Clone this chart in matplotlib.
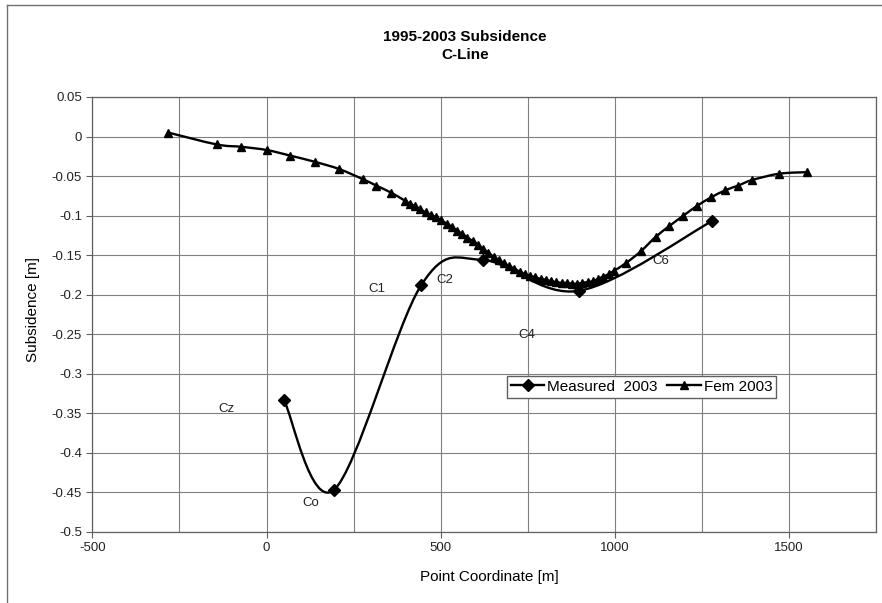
import numpy as np
import matplotlib.pyplot as plt
from matplotlib.path import Path
from matplotlib.patches import PathPatch
from matplotlib.lines import Line2D
from matplotlib.ticker import MultipleLocator, FuncFormatter

plt.rcParams['font.family'] = ['Liberation Sans', 'DejaVu Sans']
plt.rcParams['axes.unicode_minus'] = False

# measured 2003 (diamonds)
meas_x = [50, 193, 444, 621, 898, 1279]
meas_y = [-0.333, -0.447, -0.188, -0.156, -0.195, -0.107]

# FEM 2003 (triangles)
fem_x = [-282, -143, -72, 0, 67, 139, 208, 277, 315, 358,
         397, 412, 427, 442, 457, 472, 487, 502, 517, 532,
         547, 562, 577, 592, 607, 622, 637, 652, 667, 682,
         697, 712, 727, 742, 757, 772, 787, 802, 817, 832,
         847, 862, 877, 892, 907, 922, 937, 952, 967, 982, 997,
         1032, 1075, 1117, 1157, 1197, 1235, 1276, 1317, 1354, 1394, 1472, 1553]
fem_y = [0.005, -0.010, -0.013, -0.017, -0.024, -0.032, -0.041, -0.054, -0.062, -0.071,
         -0.081, -0.085, -0.088, -0.092, -0.096, -0.099, -0.102, -0.106, -0.110, -0.114,
         -0.119, -0.123, -0.128, -0.132, -0.137, -0.142, -0.147, -0.152, -0.156, -0.160,
         -0.164, -0.167, -0.171, -0.174, -0.176, -0.178, -0.180, -0.181, -0.183, -0.184,
         -0.185, -0.185, -0.186, -0.186, -0.185, -0.184, -0.183, -0.180, -0.177, -0.174, -0.170,
         -0.160, -0.145, -0.127, -0.113, -0.100, -0.088, -0.077, -0.068, -0.062, -0.055, -0.047, -0.045]

# point names written on the chart
pt_names = ["Cz", "Co", "C1", "C2", "C4", "C6"]
pt_x = [-115, 127, 316, 512, 748, 1133]
pt_y = [-0.344, -0.463, -0.193, -0.182, -0.251, -0.157]


def smooth_path(x, y):
    # excel-like smoothed line: cubic bezier through every point
    p = np.column_stack([x, y]).astype(float)
    n = len(p)
    verts = [p[0]]
    codes = [Path.MOVETO]
    for i in range(n - 1):
        p0 = p[i - 1] if i > 0 else p[i]
        p3 = p[i + 2] if i + 2 < n else p[i + 1]
        c1 = p[i] + (p[i + 1] - p0) / 6
        c2 = p[i + 1] - (p3 - p[i]) / 6
        verts += [c1, c2, p[i + 1]]
        codes += [Path.CURVE4] * 3
    return Path(verts, codes)


fig = plt.figure(figsize=(8.82, 6.03), dpi=100)
ax = fig.add_axes([92.4 / 882, 1 - 532 / 603, 783.6 / 882, 435 / 603])

ax.add_patch(PathPatch(smooth_path(meas_x, meas_y), fill=False, lw=1.7, edgecolor='black', zorder=3))
ax.add_patch(PathPatch(smooth_path(fem_x, fem_y), fill=False, lw=1.7, edgecolor='black', zorder=3))
ax.plot(meas_x, meas_y, 'D', ms=6.5, color='black', zorder=4)
ax.plot(fem_x, fem_y, '^', ms=6, color='black', zorder=4)

for name, x, y in zip(pt_names, pt_x, pt_y):
    ax.text(x, y, name, fontsize=9.5, ha='center', va='center', color='#222222')

ax.set_xlim(-500, 1750)
ax.set_ylim(-0.5, 0.05)
ax.xaxis.set_major_locator(MultipleLocator(500))
ax.xaxis.set_minor_locator(MultipleLocator(250))
ax.yaxis.set_major_locator(MultipleLocator(0.05))
ax.xaxis.set_major_formatter(FuncFormatter(lambda v, p: "%d" % round(v)))
ax.yaxis.set_major_formatter(FuncFormatter(lambda v, p: "%g" % round(v, 2)))
ax.grid(True, which='both', color='#808080', lw=0.8)
ax.set_axisbelow(True)
ax.tick_params(which='major', direction='out', length=4, width=0.8, labelsize=9.5,
               colors='#606060', labelcolor='#222222')
ax.tick_params(which='minor', length=0)
for s in ax.spines.values():
    s.set_color('#606060')
    s.set_linewidth(0.9)

handles = [Line2D([], [], color='black', lw=1.7, marker='D', ms=6),
           Line2D([], [], color='black', lw=1.7, marker='^', ms=5.5)]
ax.legend(handles, ["Measured  2003", "Fem 2003"], loc='upper left',
          bbox_to_anchor=(0.529, 0.3586), borderaxespad=0, ncol=2, fontsize=11,
          fancybox=False, framealpha=1, edgecolor='#606060', borderpad=0.25,
          handlelength=2.2, handletextpad=0.2, columnspacing=0.6)

fig.text(465 / 882, 1 - 36.7 / 603, "1995-2003 Subsidence", ha='center', va='center',
         fontsize=11, fontweight='bold')
fig.text(465 / 882, 1 - 55 / 603, "C-Line", ha='center', va='center',
         fontsize=11, fontweight='bold')
fig.text(489 / 882, 1 - 577 / 603, "Point Coordinate [m]", ha='center', va='center', fontsize=11)
fig.text(33 / 882, 1 - 310 / 603, "Subsidence [m]", ha='center', va='center',
         fontsize=11, rotation=90)

# chart area border (left and top edges visible)
fig.add_artist(Line2D([7 / 882, 7 / 882], [0, 1 - 5 / 603], color='#707070', lw=1))
fig.add_artist(Line2D([7 / 882, 1], [1 - 5 / 603, 1 - 5 / 603], color='#707070', lw=1))

fig.savefig('out.png', dpi=100)
